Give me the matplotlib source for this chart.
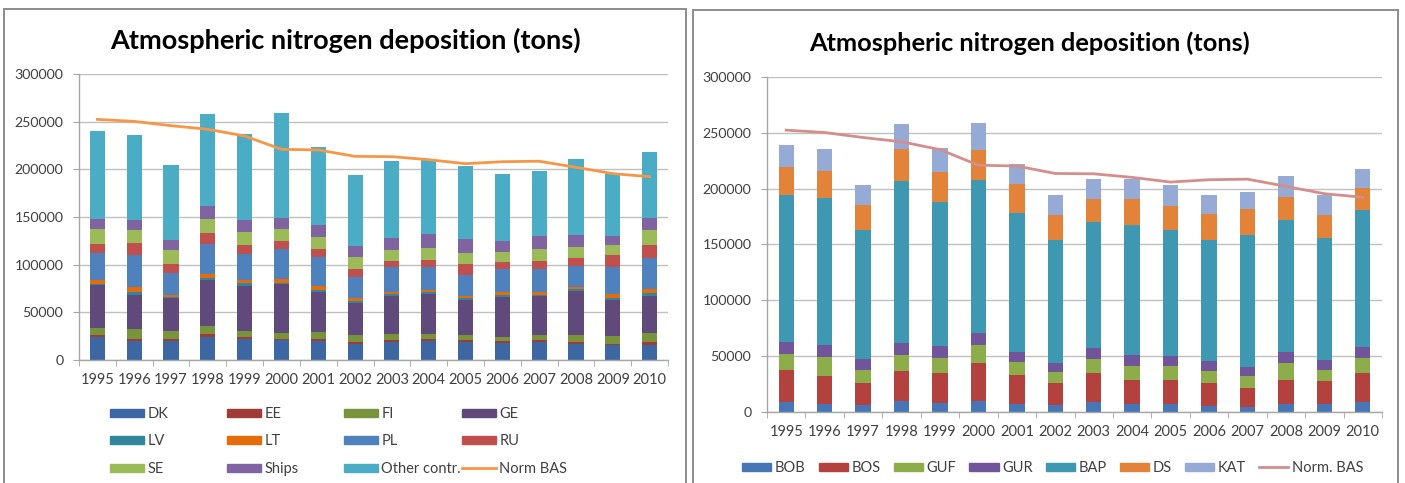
import matplotlib
matplotlib.use("Agg")
import matplotlib.pyplot as plt
from matplotlib.patches import Rectangle, Patch
from matplotlib.lines import Line2D
import numpy as np

plt.rcParams['font.family'] = ['Lato', 'DejaVu Sans']

years = [str(y) for y in range(1995, 2011)]

# left chart: deposition by source country (tons)
dk     = [24500, 19900, 19900, 24500, 21700, 20600, 19900, 17100, 18900, 19900, 18900, 17800, 18900, 16800, 15400, 15700]
ee     = [2100, 2500, 2500, 2800, 2400, 1800, 2100, 1800, 1700, 1800, 2100, 1800, 1700, 2100, 1700, 2800]
fi     = [7400, 9800, 8000, 8400, 6700, 6300, 7000, 7000, 6300, 5900, 4900, 4900, 5300, 7000, 8400, 9800]
ge     = [44700, 36300, 34300, 48600, 46800, 50700, 42700, 33900, 39900, 41600, 37000, 41600, 40900, 46800, 37400, 38800]
lv     = [1000, 3200, 1400, 1700, 2800, 1700, 1700, 1700, 2100, 1800, 1800, 2400, 1400, 1800, 2100, 2800]
lt     = [4300, 4500, 2400, 4600, 3200, 4200, 3900, 3900, 2100, 2800, 2800, 2800, 3100, 2100, 4200, 4900]
pl     = [28600, 33900, 22400, 31400, 27900, 31500, 30400, 21700, 26200, 23800, 22000, 23800, 23800, 22400, 28000, 31800]
ru     = [9400, 12600, 9800, 11200, 8800, 8000, 9100, 8400, 6300, 7600, 11200, 8000, 8400, 7600, 12600, 14000]
se     = [15400, 13300, 15000, 14700, 14300, 12600, 11900, 12200, 12200, 12600, 11900, 10200, 12600, 11900, 11200, 15400]
ships  = [10900, 10900, 9800, 13600, 12300, 11600, 12900, 11900, 12600, 14700, 14000, 11500, 13600, 12600, 9400, 13300]
other  = [91700, 88800, 78700, 96500, 89800, 110400, 81500, 74100, 80800, 77300, 76900, 70000, 68200, 79400, 64400, 68900]
norm_bas = [252400, 250300, 245800, 242000, 235000, 221000, 220300, 213600, 213300, 210100, 205900, 208000, 208500, 202100, 195500, 192300]

left_names = ['DK', 'EE', 'FI', 'GE', 'LV', 'LT', 'PL', 'RU', 'SE', 'Ships', 'Other contr.']
left_colors = ['#3C67A3', '#A13B38', '#77933C', '#604A7B', '#31859C', '#E46C0A',
               '#4F81BD', '#C0504D', '#9BBB59', '#8064A2', '#4BACC6']

# right chart: deposition by sub-basin (tons)
bob = [9000, 6900, 6000, 9600, 8100, 9600, 7500, 6000, 9000, 7500, 7500, 5700, 4500, 7500, 6900, 9000]
bos = [28400, 25700, 20300, 26900, 27200, 34100, 26000, 20300, 25700, 20900, 20900, 20000, 17000, 21500, 20600, 25700]
guf = [14600, 16700, 11700, 14600, 13500, 16100, 11400, 9600, 13200, 13200, 13200, 10800, 10800, 14700, 10500, 13800]
gur = [10800, 10500, 9900, 10500, 10100, 10500, 9200, 8400, 9200, 9500, 8900, 9000, 8400, 10100, 9000, 9500]
bap = [131300, 132200, 114800, 145700, 128900, 137900, 124200, 109400, 112800, 116100, 112500, 108800, 117800, 117900, 108800, 123000]
ds  = [25400, 24000, 22400, 28100, 26700, 26600, 25700, 22500, 20600, 23300, 21500, 23400, 23100, 20600, 21000, 19700]
kat = [19800, 19400, 18600, 22100, 22100, 24200, 18500, 17900, 18300, 18600, 18600, 17000, 15800, 18600, 17900, 17000]

right_names = ['BOB', 'BOS', 'GUF', 'GUR', 'BAP', 'DS', 'KAT']
right_colors = ['#4676B5', '#B3413E', '#8DAD4A', '#71559A', '#3F98B1', '#E3833A', '#95AAD5']

W, H = 1405, 483
GRID = '#C0C0C0'
AXC = '#A6A6A6'
TXT = '#404040'


def rect(x0, y0, x1, y1):
    # pixel box -> figure fraction
    return [x0 / W, 1 - y1 / H, (x1 - x0) / W, (y1 - y0) / H]


def style(ax):
    ax.set_xlim(-0.5, 15.5)
    ax.set_ylim(0, 300000)
    ax.set_yticks(range(0, 300001, 50000))
    ax.yaxis.grid(True, color=GRID, lw=1.0)
    ax.set_axisbelow(True)
    for s in ['top', 'right']:
        ax.spines[s].set_visible(False)
    for s in ['left', 'bottom']:
        ax.spines[s].set_color(AXC)
        ax.spines[s].set_linewidth(1.0)
    ax.tick_params(axis='y', length=4.3, color=AXC, pad=7, labelsize=10.2, labelcolor=TXT)
    ax.set_xticks(range(16))
    ax.set_xticklabels(years)
    ax.set_xticks(np.arange(-0.5, 16, 1), minor=True)
    ax.tick_params(axis='x', which='major', length=0, pad=9, labelsize=10.5, labelcolor=TXT)
    ax.tick_params(axis='x', which='minor', length=4, color=AXC)


def stack(ax, series, colors, width):
    x = np.arange(16)
    bottom = np.zeros(16)
    for vals, c in zip(series, colors):
        ax.bar(x, vals, width, bottom=bottom, color=c, zorder=2)
        bottom += np.array(vals)


fig = plt.figure(figsize=(W / 100, H / 100), dpi=100)

# panel frames
for x0, x1, y0 in [(4, 686, 9), (693, 1398, 10)]:
    fig.patches.append(Rectangle((x0 / W, -0.05), (x1 - x0) / W, 1.05 - y0 / H,
                                 transform=fig.transFigure, fill=False, ec='#8C8C8C', lw=1.4))

# left chart
ax1 = fig.add_axes(rect(79, 74, 668, 360))
stack(ax1, [dk, ee, fi, ge, lv, lt, pl, ru, se, ships, other], left_colors, 0.41)
ax1.plot(np.arange(16), norm_bas, color='#F79646', lw=2.0, zorder=3)
style(ax1)
fig.text(345 / W, 1 - 40 / H, 'Atmospheric nitrogen deposition (tons)', ha='center', va='center',
         fontsize=19.5, fontweight='bold', color='black')

handles = [Patch(color=c, label=n) for n, c in zip(left_names, left_colors)]
handles.append(Line2D([], [], color='#F79646', lw=2.0, label='Norm BAS'))
col_x = [110, 227, 344, 462]
for c in range(4):
    fig.legend(handles=[handles[r * 4 + c] for r in range(3)], loc='upper left',
               bbox_to_anchor=(col_x[c] / W, 1 - 407 / H), frameon=False, borderpad=0,
               borderaxespad=0, handlelength=2.3, handleheight=0.5, handletextpad=0.25,
               labelspacing=0.92, fontsize=10.5, labelcolor=TXT)

# right chart
ax2 = fig.add_axes(rect(767, 77, 1382, 412))
stack(ax2, [bob, bos, guf, gur, bap, ds, kat], right_colors, 0.40)
ax2.plot(np.arange(16), norm_bas, color='#D48E8C', lw=2.0, zorder=3)
style(ax2)
fig.text(1030 / W, 1 - 43 / H, 'Atmospheric nitrogen deposition (tons)', ha='center', va='center',
         fontsize=18.3, fontweight='bold', color='black')

handles2 = [Patch(color=c, label=n) for n, c in zip(right_names, right_colors)]
handles2.append(Line2D([], [], color='#D48E8C', lw=2.0, label='Norm. BAS'))
fig.legend(handles=handles2, loc='upper left', ncol=8, bbox_to_anchor=(742 / W, 1 - 461 / H),
           frameon=False, borderpad=0, borderaxespad=0, handlelength=2.0, handleheight=0.5,
           handletextpad=0.25, columnspacing=0.9, fontsize=10.5, labelcolor=TXT)

fig.savefig('out.png', dpi=100)
